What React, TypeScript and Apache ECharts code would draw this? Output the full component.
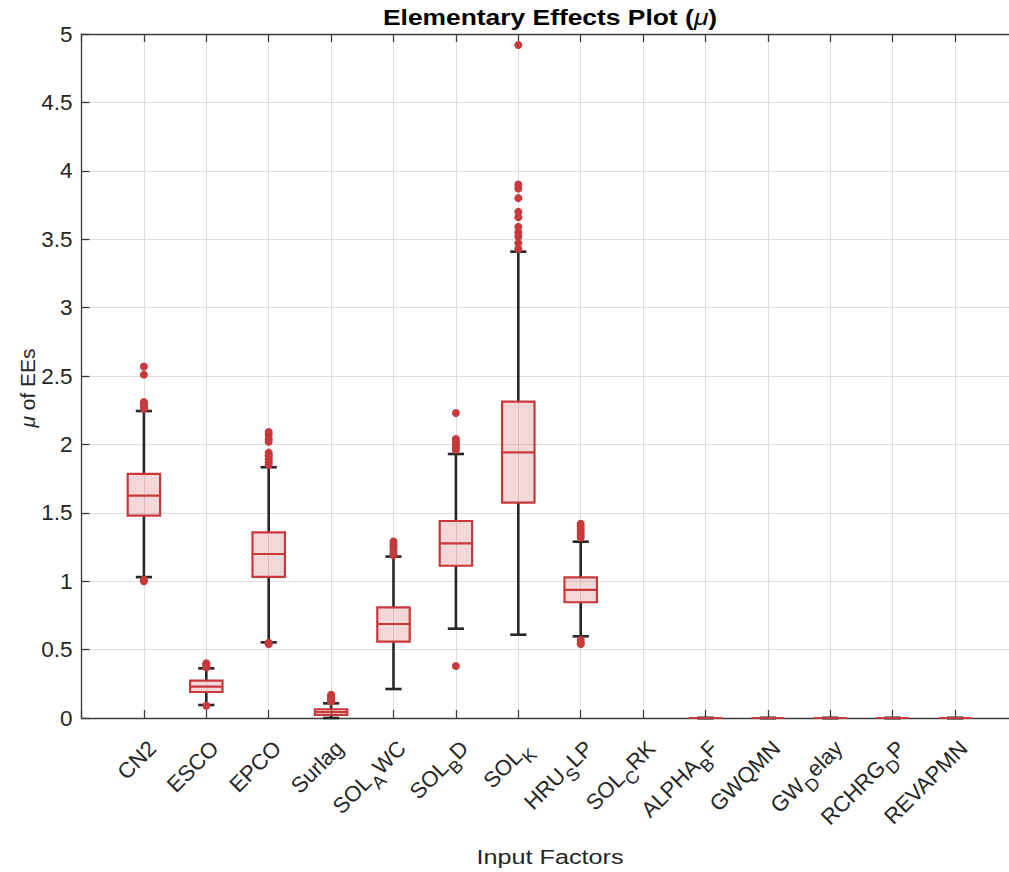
import React, { useEffect, useRef } from "react";
import * as echarts from "echarts";

// ---------- data ----------
const categories = [
  "CN2", "ESCO", "EPCO", "Surlag", "SOL_AWC", "SOL_BD", "SOL_K",
  "HRU_SLP", "SOL_CRK", "ALPHA_BF", "GWQMN", "GW_Delay", "RCHRG_DP", "REVAPMN",
];
const lowerWhisker = [1.03, 0.095, 0.553, 0.0, 0.212, 0.653, 0.609, 0.597, null, 0, 0, 0, 0, 0];
const quartile1 = [1.479, 0.19, 1.031, 0.022, 0.558, 1.113, 1.574, 0.846, null, 0, 0, 0, 0, 0];
const medians = [1.625, 0.23, 1.199, 0.043, 0.687, 1.277, 1.942, 0.936, null, 0, 0, 0, 0, 0];
const quartile3 = [1.784, 0.273, 1.357, 0.064, 0.809, 1.44, 2.312, 1.028, null, 0, 0, 0, 0, 0];
const upperWhisker = [2.244, 0.363, 1.833, 0.107, 1.18, 1.93, 3.409, 1.289, null, 0, 0, 0, 0, 0];
const outliers: number[][] = [
  [2.57, 2.51, 2.31, 2.3, 2.29, 2.28, 2.27, 2.26, 1.01, 1.0],
  [0.4, 0.39, 0.38, 0.37, 0.09],
  [2.09, 2.07, 2.04, 2.02, 1.94, 1.92, 1.91, 1.89, 1.87, 1.85, 0.55, 0.54],
  [0.17, 0.16, 0.15, 0.14, 0.13, 0.12],
  [1.29, 1.27, 1.26, 1.24, 1.22, 1.2, 1.19],
  [2.23, 2.04, 2.02, 2.0, 1.98, 1.96, 0.38],
  [4.92, 3.9, 3.87, 3.8, 3.7, 3.66, 3.59, 3.55, 3.52, 3.47, 3.43],
  [1.42, 1.4, 1.38, 1.36, 1.34, 1.32, 0.57, 0.55, 0.54],
  [], [], [], [], [], [],
];
const yMin = 0;
const yMax = 5;
const yStep = 0.5;

const TITLE = "Elementary Effects Plot (";
const X_NAME = "Input Factors";
const Y_NAME = " of EEs";

// ---------- styles ----------
const RED = "#C8393B";
const RED_FILL = "rgba(200,57,59,0.2)";
const DARK = "#262626";
const AXIS = "#3c3c3c";
const GRIDC = "#dedede";
const FONT = "'Liberation Sans', Arial, Helvetica, sans-serif";

function texLabel(s: string): string {
  const i = s.indexOf("_");
  if (i < 0) return `{n|${s}}`;
  const pre = s.slice(0, i);
  const sub = s.charAt(i + 1);
  const post = s.slice(i + 2);
  return `{n|${pre}}{s|${sub}}` + (post ? `{n|${post}}` : "");
}

export default function App() {
  const ref = useRef<HTMLDivElement>(null);

  useEffect(() => {
    if (!ref.current) return;
    const chart = echarts.init(ref.current, undefined, { renderer: "svg" });

    const boxData = categories
      .map((_, i) =>
        lowerWhisker[i] == null
          ? null
          : [i + 1, lowerWhisker[i], quartile1[i], medians[i], quartile3[i], upperWhisker[i]]
      )
      .filter((d) => d !== null) as number[][];

    const outlierData: number[][] = [];
    outliers.forEach((arr, i) => arr.forEach((v) => outlierData.push([i + 1, v])));

    const xLabelCommon = {
      show: true,
      rotate: 45,
      margin: 18,
      align: "right",
      verticalAlign: "top",
      color: DARK,
      fontFamily: FONT,
      formatter: (v: number) => {
        const idx = Math.round(v) - 1;
        return categories[idx] ? texLabel(categories[idx]) : "";
      },
      rich: {
        n: { fontSize: 22, lineHeight: 24, color: DARK, fontFamily: FONT },
        s: { fontSize: 18, lineHeight: 24, padding: [20, 0, 0, 0], color: DARK, fontFamily: FONT },
      },
    };

    const option: any = {
      animation: false,
      textStyle: { fontFamily: FONT },
      grid: {
        left: 81.5,
        top: 34,
        width: 936,
        height: 684,
        containLabel: false,
        outerBoundsMode: "none",
      },
      xAxis: [
        {
          type: "value",
          min: 0,
          max: 15,
          interval: 1,
          position: "bottom",
          axisLine: { show: true, onZero: false, lineStyle: { color: AXIS, width: 1.3 } },
          axisTick: { show: true, inside: true, length: 8, lineStyle: { color: AXIS, width: 1.3 } },
          splitLine: { show: true, lineStyle: { color: GRIDC, width: 1 } },
          axisLabel: xLabelCommon,
        },
        {
          type: "value",
          min: 0,
          max: 15,
          interval: 1,
          position: "top",
          axisLine: { show: true, onZero: false, lineStyle: { color: AXIS, width: 1.3 } },
          axisTick: { show: true, inside: true, length: 8, lineStyle: { color: AXIS, width: 1.3 } },
          splitLine: { show: false },
          axisLabel: { show: false },
        },
      ],
      yAxis: [
        {
          type: "value",
          min: yMin,
          max: yMax,
          interval: yStep,
          position: "left",
          axisLine: { show: true, onZero: false, lineStyle: { color: AXIS, width: 1.3 } },
          axisTick: { show: true, inside: true, length: 8, lineStyle: { color: AXIS, width: 1.3 } },
          splitLine: { show: true, lineStyle: { color: GRIDC, width: 1 } },
          axisLabel: { color: DARK, fontSize: 22.5, margin: 9, fontFamily: FONT },
        },
        {
          type: "value",
          min: yMin,
          max: yMax,
          interval: yStep,
          position: "right",
          axisLine: { show: true, onZero: false, lineStyle: { color: AXIS, width: 1.3 } },
          axisTick: { show: true, inside: true, length: 8, lineStyle: { color: AXIS, width: 1.3 } },
          splitLine: { show: false },
          axisLabel: { show: false },
        },
      ],
      graphic: [
        {
          type: "text",
          x: 550,
          y: 17,
          scaleX: 1.2,
          style: {
            text: `{b|${TITLE}}{i|μ}{b|)}`,
            align: "center",
            verticalAlign: "middle",
            rich: {
              b: { fontSize: 22, fontWeight: "bold", fill: "#000", fontFamily: FONT },
              i: { fontSize: 22, fontStyle: "italic", fill: "#000", fontFamily: FONT },
            },
          },
        },
        {
          type: "text",
          x: 550,
          y: 857,
          scaleX: 1.2,
          style: {
            text: X_NAME,
            align: "center",
            verticalAlign: "middle",
            fontSize: 21,
            fill: DARK,
            fontFamily: FONT,
          },
        },
        {
          type: "text",
          x: 27,
          y: 388,
          rotation: Math.PI / 2,
          style: {
            text: `{i|μ}{n|${Y_NAME}}`,
            align: "center",
            verticalAlign: "middle",
            rich: {
              n: { fontSize: 21, fill: DARK, fontFamily: FONT },
              i: { fontSize: 21, fontStyle: "italic", fill: DARK, fontFamily: FONT },
            },
          },
        },
      ],
      series: [
        {
          type: "custom",
          xAxisIndex: 0,
          yAxisIndex: 0,
          data: boxData,
          encode: { x: 0, y: [1, 2, 3, 4, 5] },
          clip: false,
          z: 3,
          renderItem: (_params: any, api: any) => {
            const x = api.value(0) as number;
            const lw = api.value(1) as number;
            const b1 = api.value(2) as number;
            const md = api.value(3) as number;
            const b3 = api.value(4) as number;
            const uw = api.value(5) as number;
            const pUW = api.coord([x, uw]);
            const pQ3 = api.coord([x, b3]);
            const pQ1 = api.coord([x, b1]);
            const pLW = api.coord([x, lw]);
            const pMd = api.coord([x, md]);
            const xl = api.coord([x - 0.26, 0])[0];
            const xr = api.coord([x + 0.26, 0])[0];
            const cl = api.coord([x - 0.13, 0])[0];
            const cr = api.coord([x + 0.13, 0])[0];
            const wStyle = { stroke: DARK, lineWidth: 2.6, fill: null };
            return {
              type: "group",
              children: [
                { type: "line", shape: { x1: pUW[0], y1: pUW[1], x2: pQ3[0], y2: pQ3[1] }, style: wStyle },
                { type: "line", shape: { x1: pLW[0], y1: pLW[1], x2: pQ1[0], y2: pQ1[1] }, style: wStyle },
                { type: "line", shape: { x1: cl, y1: pUW[1], x2: cr, y2: pUW[1] }, style: wStyle },
                { type: "line", shape: { x1: cl, y1: pLW[1], x2: cr, y2: pLW[1] }, style: wStyle },
                {
                  type: "rect",
                  shape: { x: xl, y: pQ3[1], width: xr - xl, height: pQ1[1] - pQ3[1] },
                  style: { fill: RED_FILL, stroke: RED, lineWidth: 2.2 },
                },
                {
                  type: "line",
                  shape: { x1: xl, y1: pMd[1], x2: xr, y2: pMd[1] },
                  style: { stroke: RED, lineWidth: 2.2, fill: null },
                },
              ],
            };
          },
        },
        {
          type: "scatter",
          xAxisIndex: 0,
          yAxisIndex: 0,
          data: outlierData,
          symbol: "circle",
          symbolSize: 8,
          z: 4,
          itemStyle: { color: RED, opacity: 1 },
        },
      ],
    };

    chart.setOption(option);
    return () => chart.dispose();
  }, []);

  return (
    <div
      style={{
        position: "fixed",
        left: 0,
        top: 0,
        width: 1009,
        height: 872,
        overflow: "hidden",
        background: "#fff",
      }}
    >
      <div ref={ref} style={{ width: 1025, height: 872 }} />
    </div>
  );
}
